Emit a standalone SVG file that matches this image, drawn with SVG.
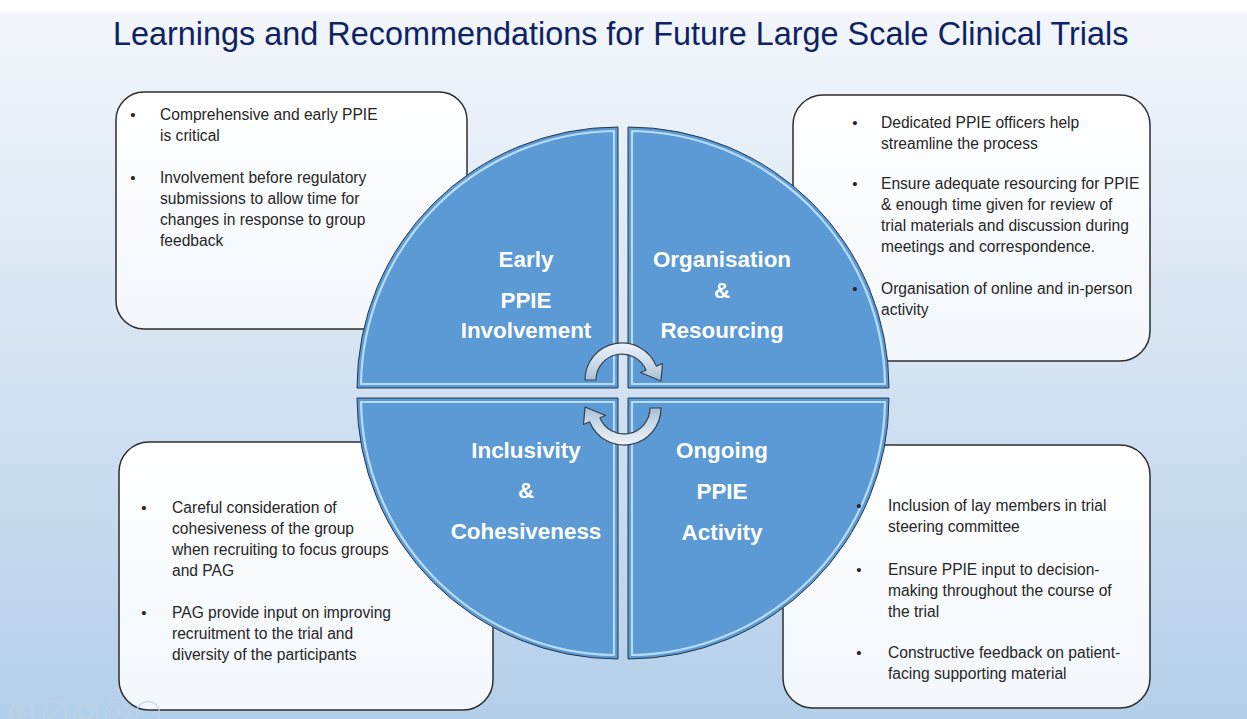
<svg xmlns="http://www.w3.org/2000/svg" width="1247" height="719" viewBox="0 0 1247 719">
  <defs>
    <linearGradient id="bg" x1="0" y1="0" x2="0" y2="1">
      <stop offset="0" stop-color="#ffffff"/>
      <stop offset="0.012" stop-color="#ffffff"/>
      <stop offset="0.02" stop-color="#f2f6fb"/>
      <stop offset="0.5" stop-color="#d5e3f2"/>
      <stop offset="1" stop-color="#b4cfea"/>
    </linearGradient>
    <linearGradient id="boxg" x1="0" y1="0" x2="0" y2="1">
      <stop offset="0" stop-color="#ffffff"/>
      <stop offset="1" stop-color="#f3f7fc"/>
    </linearGradient>
    <linearGradient id="arrowg" x1="0" y1="0" x2="0" y2="1">
      <stop offset="0" stop-color="#edf3f9"/>
      <stop offset="0.6" stop-color="#c9d8e8"/>
      <stop offset="1" stop-color="#a7bdd4"/>
    </linearGradient>
    <!-- curved arrow: arc over the top, head pointing down on the right -->
    <path id="curl" d="M 585 380 A 37 37 0 0 1 656.3 366.1 L 662.5 363.5 L 661 381 L 640.5 372.5 L 646.1 370.3 A 26 26 0 0 0 596 380 Z"/>
  </defs>

  <style>
    .title { font-family: "Liberation Sans", Arial, sans-serif; font-size: 32.4px; fill: #0f2263; }
    .body { font-family: "Liberation Sans", Arial, sans-serif; font-size: 15.6px; fill: #262626; }
    .bullet { font-family: "Liberation Sans", Arial, sans-serif; font-size: 15px; fill: #262626; text-anchor: middle; }
    .lbl { font-family: "Liberation Sans", Arial, sans-serif; font-size: 22.4px; font-weight: bold; fill: #ffffff; text-anchor: middle; }
    .box { fill: url(#boxg); stroke: #2e2e2e; stroke-width: 1.5; }
    .quad { fill: #5b9ad5; stroke: #26384d; stroke-width: 1; }
    .bevel { fill: none; stroke: #b9ddf8; stroke-width: 2.2; stroke-linejoin: round; }
    .curl { fill: url(#arrowg); stroke: #36414d; stroke-width: 1.2; stroke-linejoin: round; }
    .tool { fill: none; stroke: #c4d3e2; stroke-width: 1.5; }
  </style>

  <!-- slide background -->
  <rect x="0" y="0" width="1247" height="719" fill="url(#bg)"/>

  <text class="title" x="113" y="45">Learnings and Recommendations for Future Large Scale Clinical Trials</text>

  <!-- note panels (frames) -->
  <g id="note-early-frame"><rect class="box" x="116" y="92" width="351" height="237" rx="28"/></g>
  <g id="note-organisation-frame"><rect class="box" x="793" y="95" width="357" height="266" rx="30"/></g>
  <g id="note-inclusivity-frame"><rect class="box" x="119" y="442" width="374" height="268" rx="30"/></g>
  <g id="note-ongoing-frame"><rect class="box" x="783" y="445" width="367" height="263" rx="30"/></g>

  <!-- four quadrants of the central wheel -->
  <g id="quad-early">
    <path class="quad" d="M 618 388 L 357 388 A 261 261 0 0 1 618 127 Z"/>
    <path class="bevel" d="M 614 384 L 361 384 A 257 257 0 0 1 614 131 Z"/>
    <text class="lbl" x="526" y="267">Early</text>
    <text class="lbl" x="526" y="308">PPIE</text>
    <text class="lbl" x="526" y="338">Involvement</text>
  </g>
  <g id="quad-organisation">
    <path class="quad" d="M 628 388 L 628 127 A 261 261 0 0 1 889 388 Z"/>
    <path class="bevel" d="M 632 384 L 632 131 A 257 257 0 0 1 885 384 Z"/>
    <text class="lbl" x="722" y="267">Organisation</text>
    <text class="lbl" x="722" y="298">&amp;</text>
    <text class="lbl" x="722" y="338">Resourcing</text>
  </g>
  <g id="quad-inclusivity">
    <path class="quad" d="M 618 398 L 618 659 A 261 261 0 0 1 357 398 Z"/>
    <path class="bevel" d="M 614 402 L 614 655 A 257 257 0 0 1 361 402 Z"/>
    <text class="lbl" x="526" y="458">Inclusivity</text>
    <text class="lbl" x="526" y="498">&amp;</text>
    <text class="lbl" x="526" y="539">Cohesiveness</text>
  </g>
  <g id="quad-ongoing">
    <path class="quad" d="M 628 398 L 889 398 A 261 261 0 0 1 628 659 Z"/>
    <path class="bevel" d="M 632 402 L 885 402 A 257 257 0 0 1 632 655 Z"/>
    <text class="lbl" x="722" y="458">Ongoing</text>
    <text class="lbl" x="722" y="499">PPIE</text>
    <text class="lbl" x="722" y="540">Activity</text>
  </g>

  <!-- cycle arrows in the middle of the wheel -->
  <g id="connectors">
    <use href="#curl" class="curl"/>
    <use href="#curl" class="curl" transform="rotate(180 623 394)"/>
  </g>

  <!-- note panel texts -->
  <g id="note-early">
    <text class="bullet" x="133" y="120">•</text>
    <text class="body" x="160" y="120">Comprehensive and early PPIE</text>
    <text class="body" x="160" y="141">is critical</text>
    <text class="bullet" x="133" y="183">•</text>
    <text class="body" x="160" y="183">Involvement before regulatory</text>
    <text class="body" x="160" y="204">submissions to allow time for</text>
    <text class="body" x="160" y="225">changes in response to group</text>
    <text class="body" x="160" y="246">feedback</text>
  </g>
  <g id="note-organisation">
    <text class="bullet" x="855" y="128">•</text>
    <text class="body" x="881" y="128">Dedicated PPIE officers help</text>
    <text class="body" x="881" y="149">streamline the process</text>
    <text class="bullet" x="855" y="189">•</text>
    <text class="body" x="881" y="189">Ensure adequate resourcing for PPIE</text>
    <text class="body" x="881" y="210">&amp; enough time given for review of</text>
    <text class="body" x="881" y="231">trial materials and discussion during</text>
    <text class="body" x="881" y="252">meetings and correspondence.</text>
    <text class="bullet" x="855" y="294">•</text>
    <text class="body" x="881" y="294">Organisation of online and in-person</text>
    <text class="body" x="881" y="315">activity</text>
  </g>
  <g id="note-inclusivity">
    <text class="bullet" x="144" y="513">•</text>
    <text class="body" x="172" y="513">Careful consideration of</text>
    <text class="body" x="172" y="534">cohesiveness of the group</text>
    <text class="body" x="172" y="555">when recruiting to focus groups</text>
    <text class="body" x="172" y="576">and PAG</text>
    <text class="bullet" x="144" y="618">•</text>
    <text class="body" x="172" y="618">PAG provide input on improving</text>
    <text class="body" x="172" y="639">recruitment to the trial and</text>
    <text class="body" x="172" y="660">diversity of the participants</text>
  </g>
  <g id="note-ongoing">
    <text class="bullet" x="859" y="511">•</text>
    <text class="body" x="888" y="511">Inclusion of lay members in trial</text>
    <text class="body" x="888" y="532">steering committee</text>
    <text class="bullet" x="859" y="575">•</text>
    <text class="body" x="888" y="575">Ensure PPIE input to decision-</text>
    <text class="body" x="888" y="596">making throughout the course of</text>
    <text class="body" x="888" y="617">the trial</text>
    <text class="bullet" x="859" y="658">•</text>
    <text class="body" x="888" y="658">Constructive feedback on patient-</text>
    <text class="body" x="888" y="679">facing supporting material</text>
  </g>

  <!-- faint slideshow controls, bottom left -->
  <g opacity="0.8">
    <circle class="tool" cx="22" cy="713" r="11.5"/>
    <path class="tool" d="M 19 707 L 26 713 L 19 719 Z"/>
    <circle class="tool" cx="55" cy="713" r="11.5"/>
    <path class="tool" d="M 49 719 L 61 707"/>
    <circle class="tool" cx="86" cy="713" r="11.5"/>
    <rect class="tool" x="80" y="707" width="12" height="11"/>
    <circle class="tool" cx="117" cy="713" r="11.5"/>
    <circle class="tool" cx="115" cy="711" r="5"/>
    <circle class="tool" cx="148" cy="713" r="11.5"/>
    <path class="tool" d="M 142 713 h 2 M 147 713 h 2 M 152 713 h 2"/>
  </g>
</svg>
